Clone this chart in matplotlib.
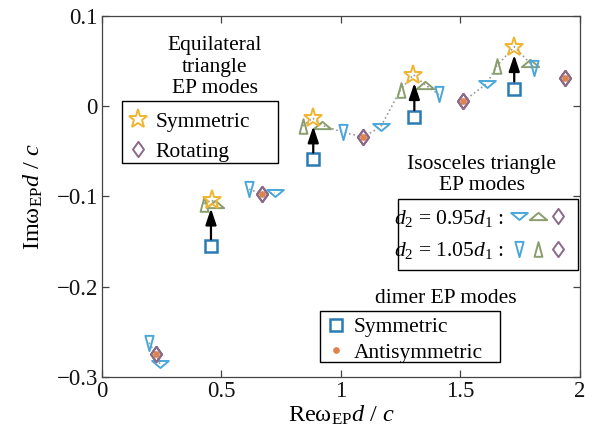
import numpy as np
import matplotlib
matplotlib.use("Agg")
import matplotlib.pyplot as plt
from matplotlib.path import Path
from matplotlib.patches import Rectangle
from matplotlib.legend_handler import HandlerTuple

# ---------------- data ----------------
eq_sym_x = [0.46, 0.881, 1.303, 1.725]
eq_sym_y = [-0.104, -0.013, 0.035, 0.066]

rot_x = [0.226, 0.67, 1.093, 1.512, 1.937]
rot_y = [-0.275, -0.097, -0.034, 0.0055, 0.031]

dimer_sym_x = [0.456, 0.884, 1.307, 1.725]
dimer_sym_y = [-0.155, -0.059, -0.012, 0.0196]

dimer_anti_x = [0.226, 0.67, 1.093, 1.512, 1.937]
dimer_anti_y = [-0.275, -0.097, -0.034, 0.0055, 0.031]

iso095_down_x = [0.243, 0.724, 1.166, 1.61]
iso095_down_y = [-0.286, -0.096, -0.023, 0.025]
iso095_up_x = [0.473, 0.919, 1.351, 1.79]
iso095_up_y = [-0.108, -0.021, 0.024, 0.048]
iso095_dia_x = [0.226, 0.67, 1.093, 1.512, 1.937]
iso095_dia_y = [-0.275, -0.097, -0.034, 0.0055, 0.031]

iso105_down_x = [0.197, 0.615, 1.01, 1.41, 1.808]
iso105_down_y = [-0.262, -0.092, -0.029, 0.013, 0.0425]
iso105_up_x = [0.427, 0.840, 1.25, 1.651]
iso105_up_y = [-0.108, -0.022, 0.0185, 0.0443]
iso105_dia_x = [0.226, 0.67, 1.093, 1.512, 1.937]
iso105_dia_y = [-0.275, -0.097, -0.034, 0.0055, 0.031]

xticks = [0, 0.5, 1, 1.5, 2]
xticklabels = ['0', '0.5', '1', '1.5', '2']
yticks = [-0.3, -0.2, -0.1, 0, 0.1]
yticklabels = ['\u22120.3', '\u22120.2', '\u22120.1', '0', '0.1']

# ---------------- style ----------------
plt.rcParams['font.family'] = ['Liberation Serif', 'DejaVu Serif']
plt.rcParams['mathtext.fontset'] = 'custom'
plt.rcParams['mathtext.rm'] = 'Liberation Serif'
plt.rcParams['mathtext.it'] = 'Liberation Serif:italic'
plt.rcParams['mathtext.bf'] = 'Liberation Serif:bold'

C_SQ = '#2b7bb5'
C_BLUE = '#4aa7da'
C_GREEN = '#8a9d6c'
C_STAR = '#f0b52f'
C_DIA = '#8b6a88'
C_DOT = '#dc8350'
C_LINE = '#9a9a9a'

def poly(verts):
    return Path(verts + [verts[0]], [Path.MOVETO] + [Path.LINETO] * (len(verts) - 1) + [Path.CLOSEPOLY])

narrow_down = poly([(-0.27, 0.5), (0.27, 0.5), (0, -0.5)])
narrow_up = poly([(-0.27, -0.5), (0.27, -0.5), (0, 0.5)])
wide_down = poly([(-0.5, 0.21), (0.5, 0.21), (0, -0.21)])
wide_up = poly([(-0.5, -0.21), (0.5, -0.21), (0, 0.21)])
diamond = poly([(0, 0.5), (0.36, 0), (0, -0.5), (-0.36, 0)])

fig = plt.figure(figsize=(5.93, 4.43), dpi=100)
ax = fig.add_axes([0.172, 0.149, 0.806, 0.815])

# dotted connecting line (sorted by x, broken at large gaps)
allx = np.array(iso105_up_x + eq_sym_x + iso095_up_x + iso105_down_x + rot_x + iso095_down_x)
ally = np.array(iso105_up_y + eq_sym_y + iso095_up_y + iso105_down_y + rot_y + iso095_down_y)
order = np.argsort(allx)
sx, sy = allx[order], ally[order]
lx, ly = [sx[0]], [sy[0]]
for i in range(1, len(sx)):
    if sx[i] - sx[i - 1] > 0.1:
        lx.append(np.nan); ly.append(np.nan)
    lx.append(sx[i]); ly.append(sy[i])
ax.plot(lx, ly, ls=':', color=C_LINE, lw=1.2, zorder=1)

mew = 1.4
kw = dict(ls='none', mfc='none', mew=mew)
h95d, = ax.plot(iso095_down_x, iso095_down_y, marker=wide_down, ms=12, mec=C_BLUE, zorder=3, **kw)
h95u, = ax.plot(iso095_up_x, iso095_up_y, marker=wide_up, ms=12.5, mec=C_GREEN, zorder=3, **kw)
h105d, = ax.plot(iso105_down_x, iso105_down_y, marker=narrow_down, ms=11, mec=C_BLUE, zorder=3, **kw)
h105u, = ax.plot(iso105_up_x, iso105_up_y, marker=narrow_up, ms=10.5, mec=C_GREEN, zorder=3, **kw)
h95dia, = ax.plot(iso095_dia_x, iso095_dia_y, marker=diamond, ms=11, mec=C_DIA, zorder=3, **kw)
h105dia, = ax.plot(iso105_dia_x, iso105_dia_y, marker=diamond, ms=11, mec=C_DIA, zorder=3, **kw)
hrot, = ax.plot(rot_x, rot_y, marker=diamond, ms=11, mec=C_DIA, zorder=4, **kw)
hstar, = ax.plot(eq_sym_x, eq_sym_y, marker='*', ms=14, mec=C_STAR, zorder=5, **kw)
hsq, = ax.plot(dimer_sym_x, dimer_sym_y, marker='s', ms=9, mec=C_SQ, zorder=5, ls='none', mfc='none', mew=1.8)
hdot, = ax.plot(dimer_anti_x, dimer_anti_y, marker='o', ms=3.8, mfc=C_DOT, mec=C_DOT, ls='none', zorder=6)

for sxv, syv, tyv in zip(dimer_sym_x, dimer_sym_y, eq_sym_y):
    ax.annotate('', xy=(sxv, tyv), xytext=(sxv, syv),
                arrowprops=dict(arrowstyle='-|>,head_length=0.75,head_width=0.25',
                                color='k', lw=1.6, shrinkA=5, shrinkB=6,
                                mutation_scale=13), zorder=7)

ax.set_xlim(0, 2)
ax.set_ylim(-0.3, 0.1)
ax.set_xticks(xticks)
ax.set_xticklabels(xticklabels)
ax.set_yticks(yticks)
ax.set_yticklabels(yticklabels)
ax.tick_params(direction='in', top=True, right=True, length=5, width=0.9,
               labelsize=16.5, colors='#444444', labelcolor='#111111', pad=3)
for sp in ax.spines.values():
    sp.set_linewidth(0.9)
    sp.set_color('#444444')

ax.set_xlabel('Re\u03c9$_{\\rm EP}$$d$ / $c$', fontsize=17.5, labelpad=1)
ax.set_ylabel('Im\u03c9$_{\\rm EP}$$d$ / $c$', fontsize=17.5, labelpad=8)

FS = 15.5
legkw = dict(frameon=False, borderaxespad=0, fontsize=FS, borderpad=0.3)

def box(x0, y0, x1, y1):
    ax.add_patch(Rectangle((x0, y0), x1 - x0, y1 - y0, transform=ax.transAxes,
                           fill=False, edgecolor='k', lw=1.0, zorder=8, clip_on=False))

# Legend 1: equilateral
ax.text(0.236, 0.773, 'Equilateral\ntriangle\nEP modes', transform=ax.transAxes,
        ha='center', va='bottom', fontsize=FS, linespacing=1.17)
leg1 = ax.legend([hstar, hrot], ['Symmetric', 'Rotating'], loc='upper left',
                 bbox_to_anchor=(0.042, 0.752), handlelength=0.9,
                 handletextpad=0.35, labelspacing=0.44, **legkw)
ax.add_artist(leg1)
box(0.042, 0.593, 0.368, 0.765)

# Legend 2: isosceles
ax.text(0.795, 0.503, 'Isosceles triangle\nEP modes', transform=ax.transAxes,
        ha='center', va='bottom', fontsize=FS, linespacing=1.17)
leg2 = ax.legend([(h95d, h95u, h95dia), (h105d, h105u, h105dia)],
                 ['$d_2$ = 0.95$d_1$ :', '$d_2$ = 1.05$d_1$ :'],
                 handler_map={tuple: HandlerTuple(ndivide=None, pad=0.1)},
                 loc='upper right', bbox_to_anchor=(0.985, 0.487),
                 markerfirst=False, handlelength=2.6, handletextpad=0.3,
                 labelspacing=0.54, **legkw)
ax.add_artist(leg2)
box(0.619, 0.296, 0.996, 0.493)

# Legend 3: dimer
ax.text(0.72, 0.192, 'dimer EP modes', transform=ax.transAxes,
        ha='center', va='bottom', fontsize=FS)
leg3 = ax.legend([hsq, hdot], ['Symmetric', 'Antisymmetric'], loc='upper left',
                 bbox_to_anchor=(0.456, 0.183), handlelength=0.9,
                 handletextpad=0.35, labelspacing=0.24, **legkw)
box(0.456, 0.042, 0.833, 0.183)

fig.savefig('out.png', dpi=100)
